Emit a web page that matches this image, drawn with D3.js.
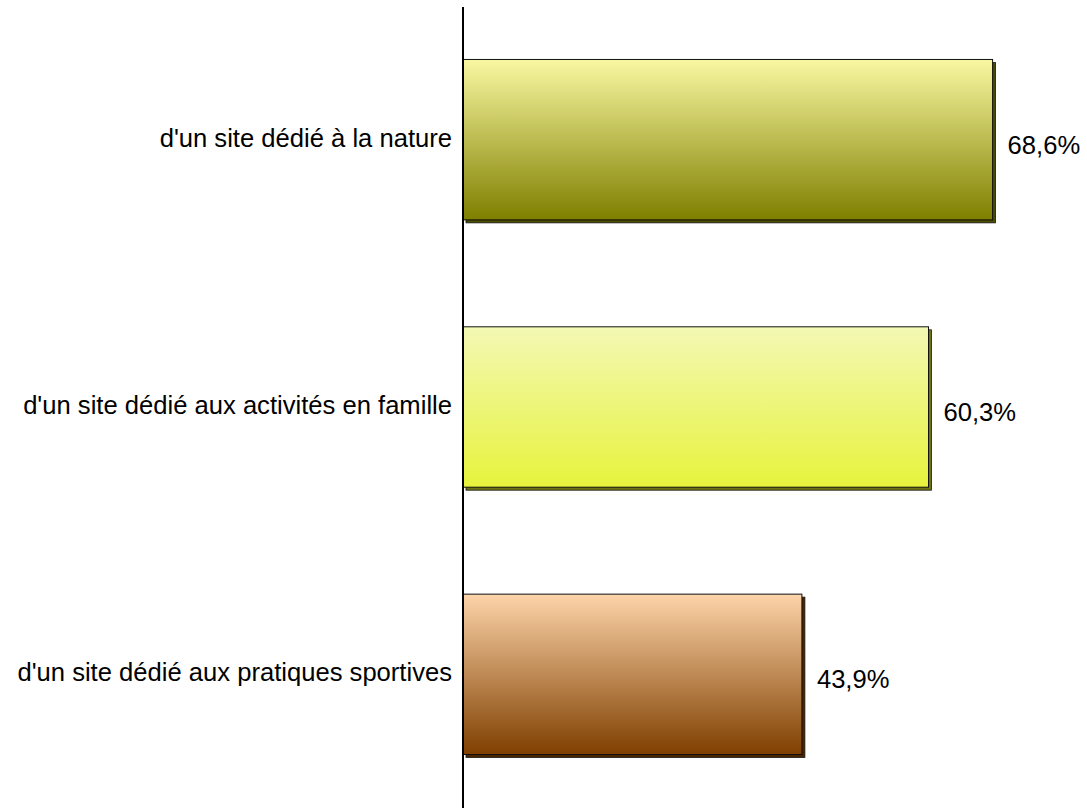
<!DOCTYPE html>
<html>
<head>
<meta charset="utf-8">
<script src="https://cdn.jsdelivr.net/npm/d3@7"></script>
<style>
    html, body { margin: 0; padding: 0; background: #fff; }
    svg { display: block; }
</style>
</head>
<body>
<svg id="chart"></svg>
<script>
const categories = [
    "d'un site dédié à la nature",
    "d'un site dédié aux activités en famille",
    "d'un site dédié aux pratiques sportives"
]
const values = [68.6, 60.3, 43.9]
const valueLabels = ['68,6%', '60,3%', '43,9%']
// top colour, bottom colour, shadow colour for each bar
const barColors = [
    ['#f9f8a2', '#7f7f00', '#4a4a00'],
    ['#f3f8b4', '#e7f33c', '#6e7313'],
    ['#fdd4a9', '#7f3f00', '#4a2500']
]

const width = 1087
const height = 808

const svg = d3.select('#chart').attr('width', width).attr('height', height)
const defs = svg.append('defs')

const x = d3.scaleLinear().domain([0, 100]).range([463, 1235])
const y = d3.scaleBand().domain(categories).range([6, 808]).paddingInner(0.4).paddingOuter(0.2)

barColors.forEach((c, i) => {
    const grad = defs.append('linearGradient')
        .attr('id', 'grad' + i)
        .attr('x1', 0).attr('y1', 0).attr('x2', 0).attr('y2', 1)
    grad.append('stop').attr('offset', '0%').attr('stop-color', c[0])
    grad.append('stop').attr('offset', '100%').attr('stop-color', c[1])
})

const data = categories.map((cat, i) => ({ cat, value: values[i], label: valueLabels[i], i }))

// shadows
svg.append('g').selectAll('rect').data(data).join('rect')
    .attr('x', x(0) + 3)
    .attr('y', d => y(d.cat) + 3)
    .attr('width', d => x(d.value) - x(0))
    .attr('height', y.bandwidth())
    .attr('fill', d => barColors[d.i][2])
    .attr('stroke', '#1a1a1a')
    .attr('stroke-width', 0.8)

// bars
svg.append('g').selectAll('rect').data(data).join('rect')
    .attr('x', x(0))
    .attr('y', d => y(d.cat))
    .attr('width', d => x(d.value) - x(0))
    .attr('height', y.bandwidth())
    .attr('fill', d => 'url(#grad' + d.i + ')')
    .attr('stroke', '#111')
    .attr('stroke-width', 1)

// vertical axis
svg.append('line')
    .attr('x1', x(0)).attr('x2', x(0))
    .attr('y1', 7).attr('y2', height)
    .attr('stroke', '#000')
    .attr('stroke-width', 2)

// category labels
svg.append('g').selectAll('text').data(data).join('text')
    .attr('x', x(0) - 11)
    .attr('y', d => y(d.cat) + y.bandwidth() / 2 + 7)
    .attr('text-anchor', 'end')
    .attr('font-family', 'Arial, "Liberation Sans", sans-serif')
    .attr('font-size', 25.6)
    .attr('fill', '#000')
    .text(d => d.cat)

// value labels
svg.append('g').selectAll('text').data(data).join('text')
    .attr('x', d => x(d.value) + 15)
    .attr('y', d => y(d.cat) + y.bandwidth() / 2 + 14)
    .attr('font-family', 'Arial, "Liberation Sans", sans-serif')
    .attr('font-size', 25.6)
    .attr('fill', '#000')
    .text(d => d.label)
</script>
</body>
</html>
